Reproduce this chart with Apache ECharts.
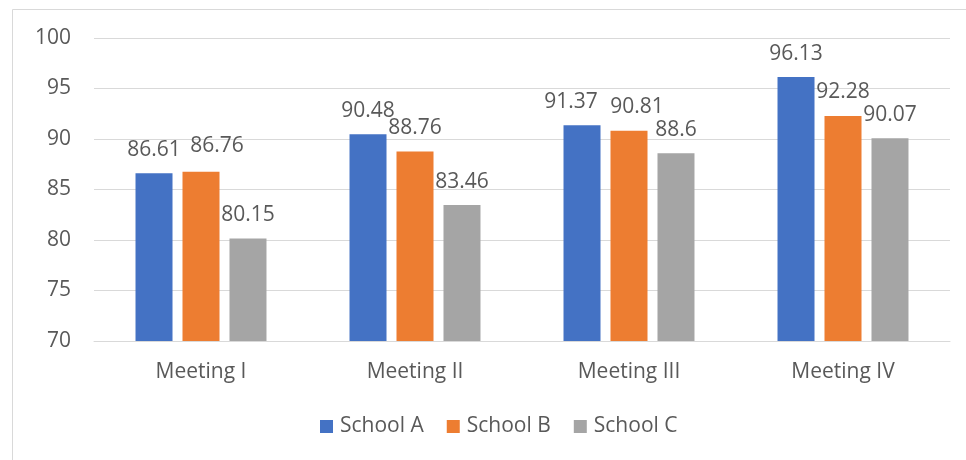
<!DOCTYPE html>
<html>
<head>
<meta charset="utf-8">
<script src="https://cdn.jsdelivr.net/npm/echarts@6/dist/echarts.min.js"></script>
<style>
  html, body { margin: 0; padding: 0; background: #ffffff; }
  #chart { width: 966px; height: 460px; }
</style>
</head>
<body>
<div id="chart"></div>
<script>
// categories and values
var meetings = ["Meeting I", "Meeting II", "Meeting III", "Meeting IV"];
var schoolA = [86.61, 90.48, 91.37, 96.13];
var schoolB = [86.76, 88.76, 90.81, 92.28];
var schoolC = [80.15, 83.46, 88.6, 90.07];
var yTicks = [70, 75, 80, 85, 90, 95, 100];

var chart = echarts.init(document.getElementById("chart"));

var textColor = "#595959";
var font = "'Open Sans', sans-serif";

// labels that the original nudged sideways to keep them apart
var labelNudge = {
  "School A": [[0, 0], [0, 0], [-11, 0], [0, 0]],
  "School B": [[16, -2], [0, 0], [8, 0], [0, 0]],
  "School C": [[0, 0], [0, 0], [0, 0], [0, 0]]
};

function barSeries(name, data, color) {
  return {
    name: name,
    type: "bar",
    data: data.map(function (v, i) {
      return { value: v, label: { offset: labelNudge[name][i] } };
    }),
    barWidth: 37,
    barGap: "27%",
    itemStyle: { color: color },
    label: {
      show: true,
      position: "top",
      distance: 13,
      color: textColor,
      fontSize: 21,
      fontFamily: font
    }
  };
}

var option = {
  animation: false,
  backgroundColor: "#ffffff",
  // chart frame, cut off on the right and bottom
  graphic: [{
    type: "rect",
    shape: { x: 12.5, y: 9.5, width: 1200, height: 800 },
    style: { fill: "none", stroke: "#d9d9d9", lineWidth: 1 },
    silent: true
  }],
  legend: {
    data: ["School A", "School B", "School C"],
    left: 315,
    top: 411,
    icon: "rect",
    itemWidth: 13,
    itemHeight: 13,
    itemGap: 23,
    textStyle: { color: textColor, fontSize: 21, fontFamily: font, padding: [0, 0, 0, 2] }
  },
  grid: {
    left: 94,
    right: 16,
    top: 38,
    bottom: 119
  },
  xAxis: {
    type: "category",
    data: meetings,
    axisLine: { show: true, lineStyle: { color: "#d9d9d9", width: 1 } },
    axisTick: { show: false },
    axisLabel: { color: textColor, fontSize: 21, fontFamily: font, margin: 21 }
  },
  yAxis: {
    type: "value",
    min: yTicks[0],
    max: yTicks[yTicks.length - 1],
    interval: 5,
    axisLine: { show: false },
    axisTick: { show: false },
    splitLine: { lineStyle: { color: "#d9d9d9", width: 1 } },
    axisLabel: { color: textColor, fontSize: 21, fontFamily: font, margin: 23 }
  },
  series: [
    barSeries("School A", schoolA, "#4472c4"),
    barSeries("School B", schoolB, "#ed7d31"),
    barSeries("School C", schoolC, "#a5a5a5")
  ]
};

chart.setOption(option);
</script>
</body>
</html>
